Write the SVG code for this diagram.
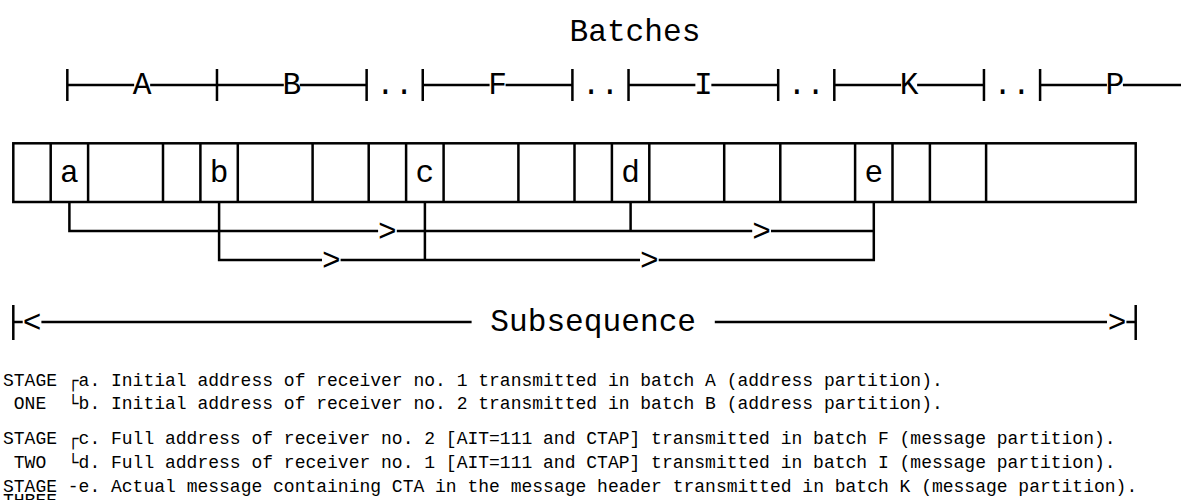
<svg xmlns="http://www.w3.org/2000/svg" width="1181" height="500" viewBox="0 0 1181 500">
<style>
.big{font-family:"Liberation Mono","DejaVu Sans Mono",monospace;font-size:31.18px;fill:#000}
.mid{text-anchor:middle}
.small{font-family:"Liberation Mono","DejaVu Sans Mono",monospace;font-size:18px;fill:#000}
.ln{stroke:#000;stroke-width:2.5;fill:none;stroke-linecap:butt}
</style>
<rect width="1181" height="500" fill="#fff"/>
<g id="batches-title"><text class="big" x="569.5" y="41">Batches</text></g>
<g id="batch-scale">
<path class="ln" d="M67.32 85H134.15M150.15 85H283.81M299.81 85H366.63M422.75 85H489.58M505.58 85H572.41M628.53 85H695.36M711.36 85H778.19M834.31 85H901.14M917.14 85H983.96M1040.09 85H1106.91M1122.91 85H1181"/>
<path class="ln" d="M67.32 69V101M216.98 69V101M366.63 69V101M422.75 69V101M572.41 69V101M628.53 69V101M778.19 69V101M834.31 69V101M983.96 69V101M1040.09 69V101"/>
<text class="big mid" x="142.15" y="94">A</text>
<text class="big mid" x="291.81" y="94">B</text>
<text class="big mid" x="497.58" y="94">F</text>
<text class="big mid" x="703.36" y="94">I</text>
<text class="big mid" x="909.14" y="94">K</text>
<text class="big mid" x="1114.91" y="94">P</text>
<text class="big mid" x="385.34" y="94">.</text><text class="big mid" x="404.05" y="94">.</text>
<text class="big mid" x="591.12" y="94">.</text><text class="big mid" x="609.82" y="94">.</text>
<text class="big mid" x="796.89" y="94">.</text><text class="big mid" x="815.60" y="94">.</text>
<text class="big mid" x="1002.67" y="94">.</text><text class="big mid" x="1021.38" y="94">.</text>
</g>
<g id="frame">
<rect class="ln" x="13.3" y="143.3" width="1122.4" height="58.7"/>
<path class="ln" d="M50.7 143.3V202M88.1 143.3V202M163 143.3V202M200.4 143.3V202M237.8 143.3V202M312.6 143.3V202M368.7 143.3V202M406.1 143.3V202M443.6 143.3V202M518.4 143.3V202M574.5 143.3V202M611.9 143.3V202M649.3 143.3V202M724.2 143.3V202M780.3 143.3V202M855.1 143.3V202M892.5 143.3V202M929.9 143.3V202M986.1 143.3V202"/>
</g>
<g id="cell-a"><text class="big mid" x="69.4" y="182">a</text></g>
<g id="cell-b"><text class="big mid" x="219.1" y="182">b</text></g>
<g id="cell-c"><text class="big mid" x="424.9" y="182">c</text></g>
<g id="cell-d"><text class="big mid" x="630.6" y="182">d</text></g>
<g id="cell-e"><text class="big mid" x="873.8" y="182">e</text></g>
<g id="connectors">
<path class="ln" d="M69.4 202V231H378.1M396.8 231H752.2M771 231H873.8"/>
<path class="ln" d="M630.6 202V231"/>
<path class="ln" d="M219.1 202V260H322M340.6 260H640M658.7 260H873.8V202"/>
<path class="ln" d="M424.9 202V260"/>
<text class="big mid" x="387.4" y="241">&gt;</text>
<text class="big mid" x="761.6" y="241">&gt;</text>
<text class="big mid" x="331.3" y="270">&gt;</text>
<text class="big mid" x="649.3" y="270">&gt;</text>
</g>
<g id="subsequence">
<path class="ln" d="M13.3 305V340M13.3 322H22.7M41.4 322H471.6M714.8 322H1107M1126.4 322H1135.7M1135.7 305V340"/>
<text class="big mid" x="32" y="332">&lt;</text>
<text class="big mid" x="1117" y="332">&gt;</text>
<text class="big" x="490.3" y="331">Subsequence</text>
</g>
<g id="legend">
<text class="small" x="3" y="386">STAGE</text><text class="small" x="67.8" y="386">┌</text><text class="small" x="78.6" y="386">a. Initial address of receiver no. 1 transmitted in batch A (address partition).</text>
<text class="small" x="13.8" y="409">ONE</text><text class="small" x="67.8" y="409">└</text><text class="small" x="78.6" y="409">b. Initial address of receiver no. 2 transmitted in batch B (address partition).</text>
<text class="small" x="3" y="444">STAGE</text><text class="small" x="67.8" y="444">┌</text><text class="small" x="78.6" y="444">c. Full address of receiver no. 2 [AIT=111 and CTAP] transmitted in batch F (message partition).</text>
<text class="small" x="13.8" y="468">TWO</text><text class="small" x="67.8" y="468">└</text><text class="small" x="78.6" y="468">d. Full address of receiver no. 1 [AIT=111 and CTAP] transmitted in batch I (message partition).</text>
<text class="small" x="3" y="492">STAGE -e. Actual message containing CTA in the message header transmitted in batch K (message partition).</text>
<text class="small" x="3" y="506">THREE</text>
</g>
</svg>
